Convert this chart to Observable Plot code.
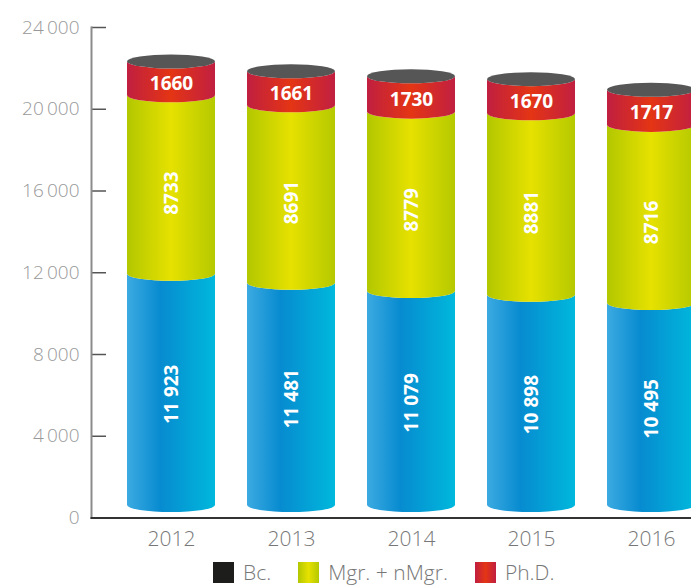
<!DOCTYPE html>
<html>
<head>
<meta charset="utf-8">
<script src="https://cdn.jsdelivr.net/npm/d3@7"></script>
<script src="https://cdn.jsdelivr.net/npm/@observablehq/plot@0.6"></script>
<style>
  html, body { margin: 0; padding: 0; background: #fff; }
  body { width: 691px; height: 585px; overflow: hidden; font-family: "Open Sans", sans-serif; }
  #legend { display: flex; align-items: flex-start; padding-left: 213px; margin-top: 7px; height: 22px; }
  .item { display: flex; align-items: flex-start; margin-right: 27px; }
  .sw { width: 21px; height: 21px; margin-right: 9px; }
  .lab { font-size: 21px; font-weight: 300; color: #777; line-height: 20px; }
</style>
</head>
<body>
<div id="chart"></div>
<div id="legend"></div>
<script>
// ---- data ----
const years = ["2012", "2013", "2014", "2015", "2016"];
const bc  = [11923, 11481, 11079, 10898, 10495];
const mgr = [8733, 8691, 8779, 8881, 8716];
const phd = [1660, 1661, 1730, 1670, 1717];
const seriesNames = ["Bc.", "Mgr. + nMgr.", "Ph.D."];
const yTicks = [0, 4000, 8000, 12000, 16000, 20000, 24000];

// ---- styles ----
const gradients = {
  "g-bc":  [[0, "#3caae1"], [0.38, "#078bd0"], [1, "#00b8dc"]],
  "g-mgr": [[0, "#b2c700"], [0.5, "#e6e100"], [1, "#b5c900"]],
  "g-phd": [[0, "#c01f40"], [0.5, "#e43514"], [1, "#c11f41"]]
};
const gradIds = ["g-bc", "g-mgr", "g-phd"];
const legendBg = [
  "#1d1d1b",
  "linear-gradient(90deg,#b2c700,#e6e100,#b5c900)",
  "linear-gradient(90deg,#c01f40,#e43514,#c11f41)"
];
const capColor = "#565656";
const ry = 7;          // ellipse half-height (px)
const baseLift = 12.5; // cylinder base lifted above the axis (px)

const tickLocale = d3.formatLocale({decimal: ",", thousands: "\u2009", grouping: [3], currency: ["", ""]});
const valLocale = d3.formatLocale({decimal: ",", thousands: "\u00a0", grouping: [3], currency: ["", ""]});
const tickFmt = tickLocale.format(",");
const valGrp = valLocale.format(",");
const valFmt = v => v >= 10000 ? valGrp(v) : String(v);

// ---- build table ----
const series = [bc, mgr, phd];
const rows = [];
years.forEach((year, i) => {
  let acc = 0;
  series.forEach((arr, s) => {
    const v = arr[i];
    rows.push({year, s, name: seriesNames[s], value: v, y1: acc, y2: acc + v, mid: acc + v / 2, top: s === series.length - 1});
    acc += v;
  });
});

function cylinders(index, scales, values, dimensions, context) {
  const g = d3.create("svg:g");
  const bw = scales.x.bandwidth();
  const rx = bw / 2;
  for (const i of index) {
    const r = rows[i];
    const x0 = scales.x(r.year), x1 = x0 + bw;
    const yb = scales.y(r.y2);
    const ya = r.s === 0 ? scales.y(0) - baseLift : scales.y(r.y1);
    g.append("path")
      .attr("d", `M${x0},${yb}A${rx},${ry} 0 0 0 ${x1},${yb}L${x1},${ya}A${rx},${ry} 0 0 1 ${x0},${ya}Z`)
      .attr("fill", `url(#${gradIds[r.s]})`);
    if (r.top) {
      g.append("ellipse")
        .attr("cx", x0 + rx).attr("cy", yb).attr("rx", rx).attr("ry", ry)
        .attr("fill", capColor);
    }
  }
  return g.node();
}

const labelOpts = {x: "year", y: "mid", text: d => valFmt(d.value), fill: "white", fontWeight: "bold", fontSize: 19, fontFamily: "Open Sans"};

const chart = Plot.plot({
  width: 691,
  height: 555,
  marginLeft: 91,
  marginRight: 0,
  marginTop: 27,
  marginBottom: 37.5,
  style: {fontFamily: "Open Sans", background: "white", overflow: "visible"},
  x: {domain: years, range: [95, 727], padding: 32 / 120, label: null},
  y: {domain: [0, 24000], label: null},
  marks: [
    Plot.barY(rows, {x: "year", y1: "y1", y2: "y2", render: cylinders}),
    Plot.text(rows.filter(d => d.s === 0), {...labelOpts, rotate: -90, dy: -2}),
    Plot.text(rows.filter(d => d.s === 1), {...labelOpts, rotate: -90, dy: 8}),
    Plot.text(rows.filter(d => d.s === 2), {...labelOpts, dy: 5}),
    Plot.axisY(yTicks, {tickSize: -15, tickFormat: () => "", stroke: "#555", strokeWidth: 1.5}),
    Plot.axisY(yTicks, {tickSize: 0, tickPadding: 12, tickFormat: tickFmt, fill: "#999", fontSize: 19, fontWeight: 300}),
    Plot.axisX({tickSize: 0, tickPadding: 13, fill: "#777", fontSize: 21, fontWeight: 300}),
    Plot.frame({anchor: "left", stroke: "#8c8c8c", strokeWidth: 2}),
    Plot.frame({anchor: "bottom", stroke: "#333", strokeWidth: 2})
  ]
});

// gradient definitions
const defs = d3.select(chart).insert("defs", ":first-child");
for (const [id, stops] of Object.entries(gradients)) {
  const lg = defs.append("linearGradient").attr("id", id).attr("x1", 0).attr("x2", 1).attr("y1", 0).attr("y2", 0);
  for (const [o, c] of stops) lg.append("stop").attr("offset", o).attr("stop-color", c);
}
document.getElementById("chart").append(chart);

// legend
const legend = d3.select("#legend");
seriesNames.forEach((name, i) => {
  const it = legend.append("div").attr("class", "item");
  it.append("div").attr("class", "sw").style("background", legendBg[i]);
  it.append("span").attr("class", "lab").text(name);
});
</script>
</body>
</html>
